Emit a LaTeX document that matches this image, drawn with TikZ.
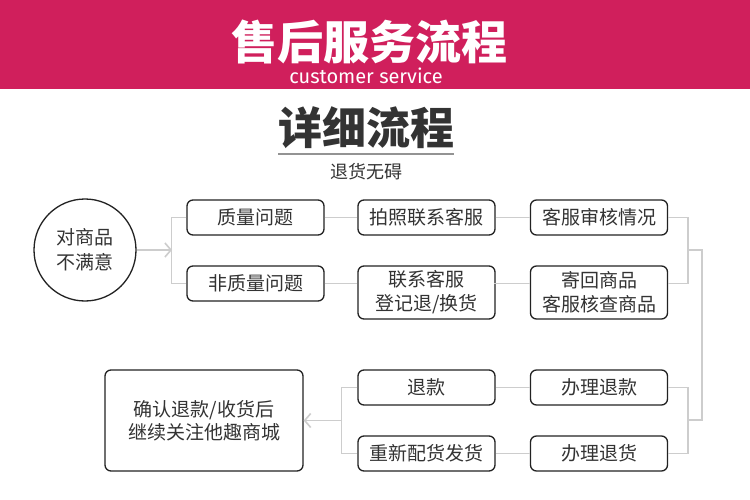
\documentclass[tikz,border=0pt]{standalone}
\usepackage{fontspec}
\setmainfont{Noto Sans CJK SC}
\newfontfamily\latinfont{Fira Sans}
\usetikzlibrary{arrows.meta,calc}
\definecolor{banner}{RGB}{208,31,92}
\definecolor{txt}{RGB}{51,51,51}
\definecolor{edge}{RGB}{34,34,34}
\definecolor{conn}{RGB}{205,205,205}
\tikzset{
  box/.style={draw=edge, line width=1.3pt, rounded corners=6pt, minimum width=137pt, minimum height=35pt, inner sep=0pt, align=center, text=txt, font=\fontsize{19}{24}\selectfont},
  connline/.style={draw=conn, line width=1.6pt},
  barb/.style={-{Straight Barb[length=6pt,width=14pt,line width=1.6pt]}}
}
\begin{document}
\begin{tikzpicture}[x=1pt,y=-1pt]
\useasboundingbox (0,0) rectangle (750,500);
\fill[white] (0,0) rectangle (750,500);
\fill[banner] (0,0) rectangle (750,89);
\node[text=white, font=\fontsize{46}{46}\selectfont\bfseries] (title) at (369,42) {售后服务流程};
\node[text=white, font=\latinfont\fontsize{20}{20}\selectfont] (sub) at (366,76) {customer service};

\node[text=txt, font=\fontsize{44}{44}\selectfont\bfseries] (detail) at (366,128) {详细流程};
\draw[draw=gray!85, line width=2pt] (278,154) coordinate (ul1) -- (454,154) coordinate (ul2);
\node[text=txt, font=\fontsize{18}{18}\selectfont] (nohassle) at (366,172) {退货无碍};

\node[circle, draw=edge, line width=1.3pt, minimum size=102pt, inner sep=0pt, align=center, text=txt, font=\fontsize{19}{25}\selectfont] (c) at (85,250) {对商品\\不满意};

\node[box] (q1) at (255.5,217.5) {质量问题};
\node[box] (q2) at (255.5,283.5) {非质量问题};
\node[box] (p1) at (426.5,217.5) {拍照联系客服};
\node[box, minimum height=53pt] (p2) at (426.5,292.5) {联系客服\\登记退/换货};
\node[box] (r1) at (599,217.5) {客服审核情况};
\node[box, minimum height=53pt] (r2) at (599,292.5) {寄回商品\\客服核查商品};

\node[box] (s1) at (426.5,387.5) {退款};
\node[box] (s2) at (426.5,453.5) {重新配货发货};
\node[box] (t1) at (599,387.5) {办理退款};
\node[box] (t2) at (599,453.5) {办理退货};

\node[box, minimum width=198pt, minimum height=101pt, font=\fontsize{19}{23}\selectfont] (big) at (204,420.5) {确认退款/收货后\\继续关注他趣商城};

% connectors
\coordinate (j1) at (172,250);
\draw[connline, barb] (c.east) -- (j1);
\draw[connline] (q1.west) -- ++(-15,0) |- (q2.west);
\draw[connline] (q1.east) -- (p1.west);
\draw[connline] (q2.east) -- (q2.east -| p2.west);
\draw[connline] (p1.east) -- (r1.west);
\draw[connline] (p2.west |- q2.east) ++(137,0) -- (r2.west |- q2.east);
\draw[connline] (r1.east) -- ++(20,0) coordinate (k1) |- (r2.east |- q2.east);
\coordinate (m1) at (687,250);
\coordinate (m2) at (687,420);
\draw[connline] (m1) -- (702,250) -- (702,420) -- (m2);
\draw[connline] (t1.east) -- ++(20,0) |- (t2.east);
\draw[connline] (t1.west) -- (s1.east);
\draw[connline] (t2.west) -- (s2.east);
\draw[connline] (s1.west) -- ++(-16,0) |- (s2.west);
\coordinate (j2) at (342,420.5);
\draw[connline, barb] (j2) -- (big.east);
\end{tikzpicture}
\end{document}
